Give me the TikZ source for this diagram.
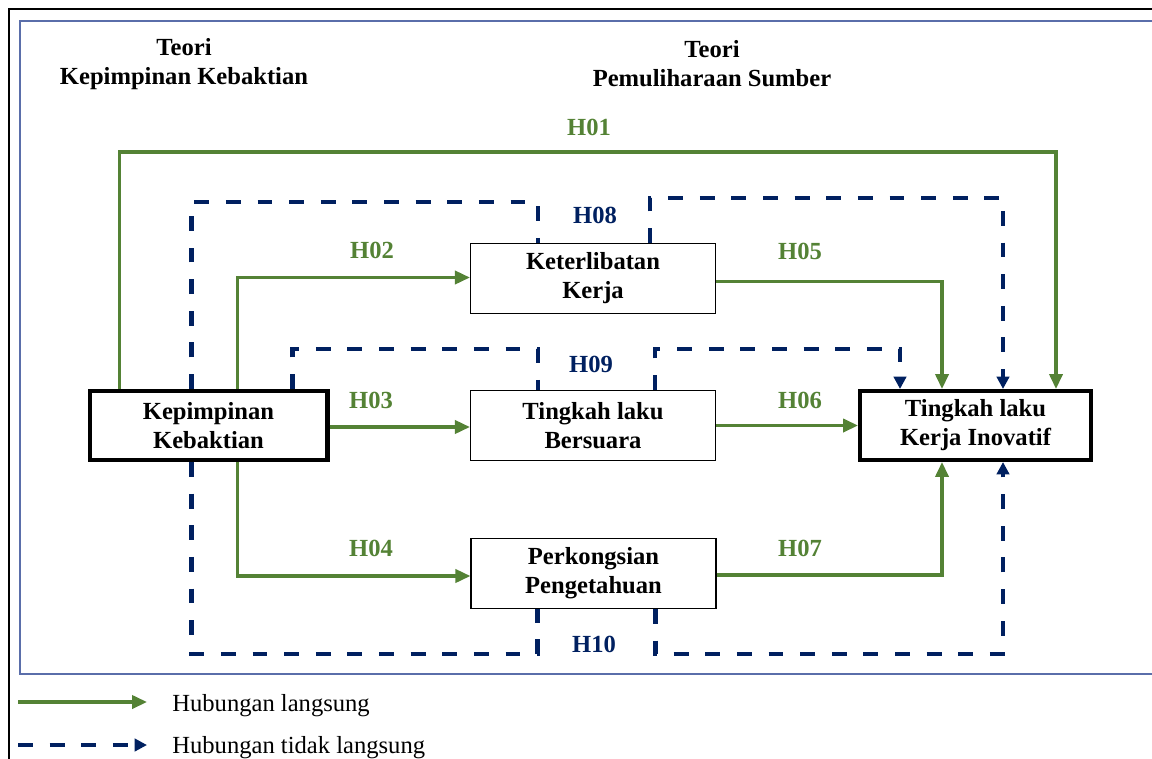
\documentclass[tikz,border=0pt]{standalone}
\usepackage{fontspec}
\setmainfont{Liberation Serif}
\usepackage{tikz}
\usetikzlibrary{calc,arrows.meta}
\definecolor{hgreen}{RGB}{84,130,53}
\definecolor{hnavy}{RGB}{0,32,96}
\definecolor{hframe}{RGB}{90,110,170}
\newcommand{\directcolor}{hgreen}
\newcommand{\indirectcolor}{hnavy}
\newcommand{\directwd}{1.8pt}
\newcommand{\indirectwd}{2.5pt}
\tikzset{
  var/.style={draw, line width=0.7pt, minimum width=4.9cm, minimum height=1.4cm,
    align=center, font=\fontsize{14}{16.5}\selectfont\bfseries},
  mainvar/.style={var, line width=2.3pt, minimum height=1.38cm},
  direct/.style={draw=\directcolor, line width=\directwd, -{Triangle[length=8.5pt,width=7.5pt]}},
  indirect/.style={draw=\indirectcolor, line width=\indirectwd, dash pattern=on 8.5pt off 9.5pt},
  indirectarrow/.style={indirect, -{Triangle[length=7pt,width=7pt]}},
  hlab/.style={font=\fontsize{14}{16}\selectfont\bfseries},
}

\begin{document}
\begin{tikzpicture}[x=0.02cm, y=-0.02cm]
\useasboundingbox (0,0) rectangle (1152,758);
\clip (0,0) rectangle (1152,758);
%frames
\draw[black, line width=1.3pt] (9,9) rectangle (1200,800);
\draw[hframe, line width=0.9pt] (20,21) rectangle (1200,674);
%titles
\node[align=center, font=\fontsize{14}{16.5}\selectfont\bfseries] (t1) at (184,64) {Teori\\Kepimpinan Kebaktian};
\node[align=center, font=\fontsize{14}{16.5}\selectfont\bfseries] (t2) at (712,64) {Teori\\Pemuliharaan Sumber};
%variables
\node[mainvar, minimum width=4.76cm] (kk) at (208.5,425.5) {Kepimpinan\\Kebaktian};
\node[var] (kj) at (593,278.5) {Keterlibatan\\Kerja};
\node[var] (tb) at (593,425.5) {Tingkah laku\\Bersuara};
\node[var] (pp) at (593.5,573.5) {Perkongsian\\Pengetahuan};
\node[mainvar, minimum width=4.62cm] (ki) at (975.5,425.5) {Tingkah laku\\Kerja Inovatif};
%direct
\draw[direct] ($(kk.north west)+(32,0)$) -- ++(0,-237) -| ($(ki.north east)+(-37,0)$);
\draw[direct] ($(kk.north west)+(150,0)$) |- ($(kj.west)+(0,-1)$);
\draw[direct] ($(kk.east)+(0,1.5)$) -- ($(tb.west)+(0,1.5)$);
\draw[direct] ($(kk.south west)+(150,0)$) |- ($(pp.west)+(0,2.5)$);
\draw[direct] ($(kj.east)+(0,3)$) -| ($(ki.north west)+(84,0)$);
\draw[direct] (tb.east) -- (ki.west);
\draw[direct] ($(pp.east)+(0,1.5)$) -| ($(ki.south west)+(84,0)$);
%indirect
\draw[indirect] ($(kk.north west)+(104,0)$) -- ++(0,-187) -| ($(kj.north west)+(68,0)$);
\draw[indirectarrow] ($(kj.north west)+(180,0)$) -- ++(0,-45) -| ($(ki.north east)+(-90,0)$);
\draw[indirect] ($(kk.north west)+(205,0)$) -- ++(0,-40) -| ($(tb.north west)+(68,0)$);
\draw[indirectarrow] ($(tb.north west)+(185,0)$) -- ++(0,-41) -| ($(ki.north west)+(42,0)$);
\draw[indirect] ($(kk.south west)+(104,0)$) -- ++(0,192) -| ($(pp.south west)+(67,0)$);
\draw[indirectarrow] ($(pp.south west)+(185,0)$) -- ++(0,45) -| ($(ki.south east)+(-90,0)$);
%labels
\node[hlab, text=hgreen] (h01) at (589,127) {H01};
\node[hlab, text=hgreen] (h02) at (372,250) {H02};
\node[hlab, text=hgreen] (h03) at (371,400) {H03};
\node[hlab, text=hgreen] (h04) at (371,548) {H04};
\node[hlab, text=hgreen] (h05) at (800,251) {H05};
\node[hlab, text=hgreen] (h06) at (800,400) {H06};
\node[hlab, text=hgreen] (h07) at (800,548) {H07};
\node[hlab, text=hnavy] (h08) at (595,215) {H08};
\node[hlab, text=hnavy] (h09) at (591,364) {H09};
\node[hlab, text=hnavy] (h10) at (594,644) {H10};
%legend
\coordinate (lg1) at (18,702);
\coordinate (lg1e) at (147,702);
\coordinate (lg2) at (18,745);
\coordinate (lg2e) at (147,745);
\draw[direct] (lg1) -- (lg1e);
\draw[indirectarrow] (lg2) -- (lg2e);
\node[anchor=base west, inner sep=0pt, font=\fontsize{14}{16}\selectfont] (lgt1) at (172,711) {Hubungan langsung};
\node[anchor=base west, inner sep=0pt, font=\fontsize{14}{16}\selectfont] (lgt2) at (172,753) {Hubungan tidak langsung};
\end{tikzpicture}
\end{document}
